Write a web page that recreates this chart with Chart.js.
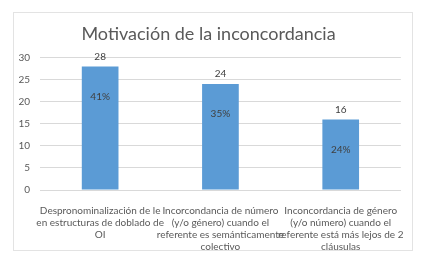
<!DOCTYPE html>
<html>
<head>
<meta charset="utf-8">
<script src="https://cdn.jsdelivr.net/npm/chart.js@4"></script>
<style>
  html, body { margin: 0; padding: 0; background: #fff; }
  #box {
    position: absolute; left: 13px; top: 12px;
    width: 398px; height: 237px;
    border: 1px solid #e3e3e3;
  }
</style>
</head>
<body>
<div id="box"><canvas id="chart" width="398" height="237"></canvas></div>
<script>
var categories = [
  ["Despronominalización de le", "en estructuras de doblado de", "OI"],
  ["Incorcondancia de número", "(y/o género) cuando el", "referente es semánticamente", "colectivo"],
  ["Inconcordancia de género", "(y/o número) cuando el", "referente está más lejos de 2", "cláusulas"]
];
var counts = [28, 24, 16];
var percents = ["41%", "35%", "24%"];

// value on top of the bar, share inside it
var barLabels = {
  id: 'barLabels',
  afterDatasetsDraw: function(chart) {
    var ctx = chart.ctx;
    var meta = chart.getDatasetMeta(0);
    ctx.save();
    ctx.font = '10px Lato';
    ctx.fillStyle = '#404040';
    ctx.textAlign = 'center';
    ctx.textBaseline = 'middle';
    meta.data.forEach(function(bar, i) {
      ctx.fillText(counts[i], bar.x, bar.y - 10);
      ctx.fillText(percents[i], bar.x, bar.y + 30);
    });
    ctx.restore();
  }
};

var ctx = document.getElementById("chart").getContext('2d');
var myChart = new Chart(ctx, {
  type: 'bar',
  data: {
    labels: categories,
    datasets: [{
      data: counts,
      backgroundColor: "#5b9bd5",
      categoryPercentage: 1,
      barPercentage: 0.305
    }]
  },
  options: {
    responsive: false,
    animation: false,
    layout: { padding: { left: 0, right: 9, top: 0, bottom: 0 } },
    plugins: {
      legend: { display: false },
      tooltip: { enabled: false },
      title: {
        display: true,
        text: "Motivación de la inconcordancia",
        color: '#595959',
        font: { family: 'Lato', size: 18, weight: 'normal' },
        padding: { top: 10, bottom: 13 }
      }
    },
    scales: {
      y: {
        min: 0,
        max: 30,
        ticks: { stepSize: 5, color: '#595959', font: { family: 'Lato', size: 10 }, padding: 10 },
        grid: { color: '#d9d9d9', drawTicks: false },
        border: { display: false },
        afterFit: function(scale) { scale.width = 26; }
      },
      x: {
        ticks: {
          color: '#595959',
          font: { family: 'Lato', size: 10, lineHeight: 1.2 },
          padding: 7,
          autoSkip: false,
          maxRotation: 0
        },
        grid: { display: false },
        border: { color: '#d9d9d9' },
        afterFit: function(scale) { scale.height = 60; }
      }
    }
  },
  plugins: [barLabels]
});
</script>
</body>
</html>
